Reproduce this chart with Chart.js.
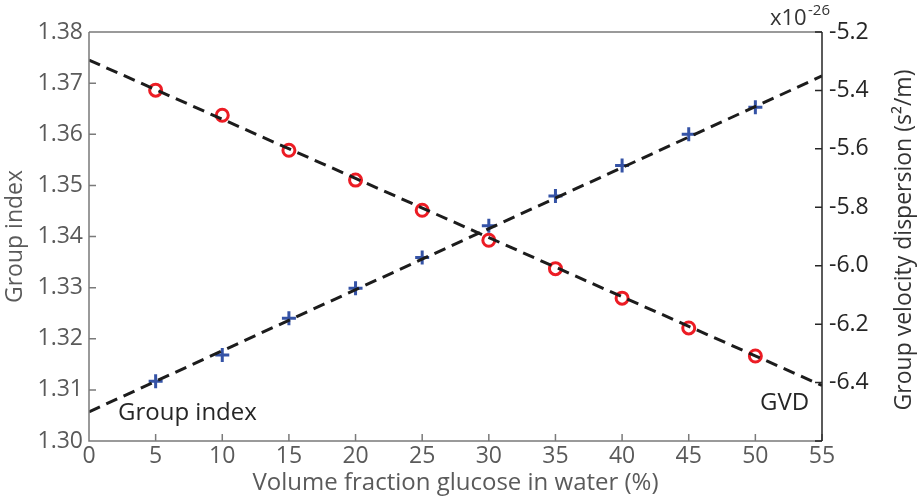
<!DOCTYPE html>
<html>
<head>
<meta charset="utf-8">
<script src="https://cdn.jsdelivr.net/npm/chart.js@4/dist/chart.umd.min.js"></script>
<style>
  html, body { margin: 0; padding: 0; background: #fff; }
  #wrap { width: 922px; height: 498px; }
</style>
</head>
<body>
<div id="wrap"><canvas id="chart" width="922" height="498"></canvas></div>
<script>
// fraction de glucose (%)
const fractions = [5, 10, 15, 20, 25, 30, 35, 40, 45, 50];
const groupIndex = [1.3117, 1.3168, 1.3240, 1.3299, 1.3359, 1.3421, 1.3479, 1.3539, 1.3600, 1.3653];
const gvd = [-5.399, -5.485, -5.605, -5.707, -5.810, -5.913, -6.010, -6.111, -6.213, -6.309]; // x1e-26 s^2/m
// droites d'ajustement
const fitX = [0, 55];
const groupIndexFit = [1.3057, 1.3714];
const gvdFit = [-5.296, -6.410];

const FONT = "'Open Sans', sans-serif";
const GRAY = '#5a5a5a';
const DARK = '#262626';

const pts = (xs, ys) => xs.map((x, i) => ({ x: x, y: ys[i] }));

// ticks vers l'interieur, cadre et textes
const decor = {
  id: 'decor',
  afterDraw(chart) {
    const c = chart.ctx, a = chart.chartArea;
    const sx = chart.scales.x, sy = chart.scales.y, sy2 = chart.scales.y2;
    c.save();
    c.lineWidth = 1.5;
    c.strokeStyle = '#7a7a7a';
    c.beginPath();
    c.moveTo(a.left, a.top); c.lineTo(a.right, a.top);
    c.moveTo(a.left, a.top); c.lineTo(a.left, a.bottom); c.lineTo(a.right, a.bottom);
    sx.ticks.forEach(t => {
      const px = sx.getPixelForValue(t.value);
      c.moveTo(px, a.bottom); c.lineTo(px, a.bottom - 7);
    });
    sy.ticks.forEach(t => {
      const py = sy.getPixelForValue(t.value);
      c.moveTo(a.left, py); c.lineTo(a.left + 7, py);
    });
    c.stroke();
    c.strokeStyle = DARK;
    c.beginPath();
    c.moveTo(a.right, a.top); c.lineTo(a.right, a.bottom);
    sy2.ticks.forEach(t => {
      const py = sy2.getPixelForValue(t.value);
      c.moveTo(a.right, py); c.lineTo(a.right - 7, py);
    });
    c.stroke();

    // titre de l'axe droit
    c.fillStyle = '#333';
    c.font = '23px ' + FONT;
    c.textAlign = 'center';
    c.textBaseline = 'middle';
    c.translate(904, 240);
    c.rotate(-Math.PI / 2);
    c.fillText('Group velocity dispersion (s\u00B2/m)', 0, 0);
    c.setTransform(1, 0, 0, 1, 0, 0);

    // facteur d'echelle
    c.textAlign = 'left';
    c.textBaseline = 'alphabetic';
    c.font = '22px ' + FONT;
    c.fillText('x10', 770, 25);
    c.font = '15px ' + FONT;
    c.fillText('-26', 808, 15);

    // etiquettes
    c.fillStyle = DARK;
    c.font = '24px ' + FONT;
    c.textBaseline = 'middle';
    c.fillText('Group index', 118, 413);
    c.fillText('GVD', 760, 403);
    c.restore();
  }
};

new Chart(document.getElementById('chart'), {
  type: 'scatter',
  data: {
    datasets: [
      {
        data: pts(fitX, groupIndexFit), yAxisID: 'y', showLine: true,
        borderColor: '#1c1c1c', borderWidth: 3, borderDash: [12, 7], pointRadius: 0
      },
      {
        data: pts(fitX, gvdFit), yAxisID: 'y2', showLine: true,
        borderColor: '#1c1c1c', borderWidth: 3, borderDash: [12, 7], pointRadius: 0
      },
      {
        data: pts(fractions, groupIndex), yAxisID: 'y', pointStyle: 'cross',
        pointRadius: 7, borderColor: '#3553a6', borderWidth: 3
      },
      {
        data: pts(fractions, gvd), yAxisID: 'y2', pointStyle: 'circle',
        pointRadius: 6, borderColor: '#ec1c24', backgroundColor: 'rgba(0,0,0,0)', borderWidth: 3
      }
    ]
  },
  options: {
    responsive: false,
    animation: false,
    layout: { padding: { top: 32 } },
    plugins: { legend: { display: false }, tooltip: { enabled: false } },
    scales: {
      x: {
        type: 'linear', min: 0, max: 55,
        afterFit: s => { s.height = 57; },
        grid: { display: false, drawTicks: false },
        border: { display: false },
        ticks: { stepSize: 5, padding: 2, color: GRAY, font: { family: FONT, size: 23 } },
        title: { display: true, text: 'Volume fraction glucose in water (%)', color: GRAY,
                 font: { family: FONT, size: 24 }, padding: { top: 0, bottom: 0 } }
      },
      y: {
        position: 'left', min: 1.30, max: 1.38,
        afterFit: s => { s.width = 89; },
        grid: { display: false, drawTicks: false },
        border: { display: false },
        ticks: { stepSize: 0.01, padding: 6, color: GRAY, font: { family: FONT, size: 23 },
                 callback: v => v.toFixed(2) },
        title: { display: true, text: 'Group index', color: GRAY,
                 font: { family: FONT, size: 23 }, padding: { top: 2, bottom: 0 } }
      },
      y2: {
        position: 'right', min: -6.6, max: -5.2,
        afterFit: s => { s.width = 100; },
        grid: { display: false, drawTicks: false },
        border: { display: false },
        ticks: { stepSize: 0.2, padding: 7, color: DARK, font: { family: FONT, size: 23 },
                 callback: v => (v < -6.55 ? '' : v.toFixed(1)) }
      }
    }
  },
  plugins: [decor]
});
</script>
</body>
</html>
